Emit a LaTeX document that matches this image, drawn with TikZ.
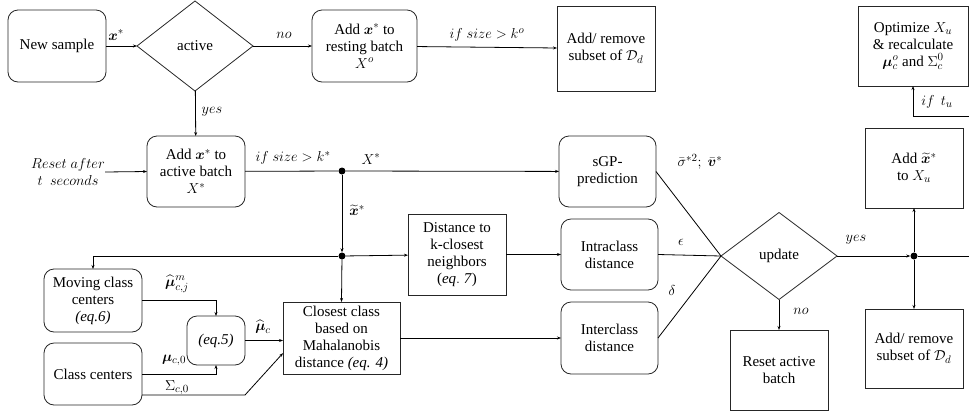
\documentclass[tikz,border=0pt]{standalone}
\usepackage{amsmath,bm}
\usepackage{fontspec}
\setmainfont{Liberation Serif}
\usetikzlibrary{shapes.geometric,arrows.meta,calc}
\tikzset{
  base/.style={draw=black!85, line width=0.8pt, align=center, inner sep=1pt, outer sep=0pt, font=\fontsize{15}{17}\selectfont},
  rbox/.style={base, rounded corners=10pt},
  sbox/.style={base},
  dec/.style={base, diamond, inner sep=0pt},
  conn/.style={line width=0.8pt, -{Stealth[length=4pt,width=3pt]}},
  plain/.style={line width=0.8pt},
  lbl/.style={font=\fontsize{15}{17}\selectfont, inner sep=0pt},
  dot/.style={circle, fill=black, inner sep=0pt, minimum size=7pt},
}
\begin{document}
\begin{tikzpicture}[x=1pt,y=-1pt]
\useasboundingbox (0,0) rectangle (969,413);
% nodes
\node[rbox, minimum width=98pt, minimum height=72pt] (new) at (57,46) {New sample};
\node[dec, minimum width=116pt, minimum height=90pt] (active) at (195,46) {active};
\node[rbox, minimum width=105pt, minimum height=72pt] (rest) at (364.5,46) {Add $\bm{x}^{*}$ to\\resting batch\\$X^{o}$};
\node[sbox, minimum width=98pt, minimum height=85pt] (addrem1) at (606,48.5) {Add/ remove\\subset of $\mathcal{D}_d$};
\node[sbox, minimum width=110pt, minimum height=80pt] (opt) at (913,46) {Optimize $X_u$\\\&\ recalculate\\$\bm{\mu}_c^{o}$ and $\Sigma_c^{0}$};
\node[rbox, minimum width=98pt, minimum height=71pt] (actb) at (196,171.5) {Add $\bm{x}^{*}$ to\\active batch\\$X^{*}$};
\node[lbl, align=center] (resettext) at (68,172) {$Reset\ after$\\$t\ \ seconds$};
\node[rbox, minimum width=97pt, minimum height=71pt] (sgp) at (607.5,171.5) {sGP-\\prediction};
\node[sbox, minimum width=98pt, minimum height=80pt] (addu) at (914,168) {Add $\widetilde{\bm{x}}^{*}$\\to $X_u$};
\node[sbox, minimum width=98pt, minimum height=81pt] (dist) at (457,254.5) {Distance to\\k-closest\\neighbors\\($\mathit{eq.}$ \textit{7})};
\node[rbox, minimum width=97pt, minimum height=71pt] (intra) at (609.5,254.5) {Intraclass\\distance};
\node[dec, minimum width=116pt, minimum height=87pt] (update) at (779,256) {update};
\node[sbox, minimum width=117pt, minimum height=72pt] (closest) at (341.5,338) {Closest class\\based on\\Mahalanobis\\distance \textit{(eq. 4)}};
\node[rbox, minimum width=97pt, minimum height=72pt] (inter) at (609.5,338) {Interclass\\distance};
\node[sbox, minimum width=98pt, minimum height=80pt] (reset) at (779,370) {Reset active\\batch};
\node[sbox, minimum width=98pt, minimum height=79pt] (addrem2) at (914,348.5) {Add/ remove\\subset of $\mathcal{D}_d$};
\node[rbox, minimum width=98pt, minimum height=63pt] (moving) at (93,300.5) {Moving class\\centers\\\textit{(eq.6)}};
\node[rbox, minimum width=98pt, minimum height=62pt] (cc) at (93,374) {Class centers};
\node[rbox, minimum width=58pt, minimum height=49pt] (eq5) at (216,340.5) {\textit{(eq.5)}};
% junctions
\node[dot] (d1) at (342,171) {};
\node[dot] (d2) at (342,256) {};
\node[dot] (d3) at (914,256) {};
\coordinate (rightend) at (969,256);
\coordinate (tu) at (969,116);
\coordinate (mvturn) at (93,256);
\coordinate (sg) at (245,395);
% connectors
\draw[conn] (new) -- (active);
\draw[conn] (active) -- (rest);
\draw[conn] (rest) -- (addrem1);
\draw[conn] (active) -- (actb);
\draw[conn] (resettext.east) -- (actb.west);
\draw[plain] (actb) -- (d1);
\draw[conn] (d1) -- (sgp);
\draw[conn] (d1) -- (d2);
\draw[conn] (d2) -- (dist);
\draw[conn] (d2) -- (mvturn) -- (moving.north);
\draw[conn] (d2) -- (closest.north);
\draw[conn] (dist) -- (intra);
\draw[conn] (closest) -- (inter);
\draw[plain] (sgp.east) -- (update.west);
\draw[plain] (intra.east) -- (update.west);
\draw[plain] (inter.east) -- (update.west);
\draw[conn] (update) -- (d3);
\draw[plain] (d3) -- (rightend);
\draw[conn] (d3) -- (addu);
\draw[conn] (d3) -- (addrem2);
\draw[conn] (update) -- (reset);
\draw[conn] (tu) -| (opt.south);
\draw[conn] (moving.east) -| (eq5.north);
\draw[conn] (cc.east) -| (eq5.south);
\draw[conn] (eq5) -- (closest.west |- eq5.east);
\draw[conn] (cc.east |- sg) -- (sg) -- ($(closest.south west)!0.29!(closest.north west)$);
% labels
\node[lbl] at (116,35) {$\bm{x}^{*}$};
\node[lbl] at (284,35) {$no$};
\node[lbl] at (212,112) {$yes$};
\node[lbl] at (487,35) {$if\ size > k^{o}$};
\node[lbl] at (293,158) {$if\ size > k^{*}$};
\node[lbl] at (371,159) {$X^{*}$};
\node[lbl] at (357,210) {$\widetilde{\bm{x}}^{*}$};
\node[lbl] at (700,162) {$\bar{\sigma}^{*2};\ \bar{\bm{v}}^{*}$};
\node[lbl] at (681,242) {$\epsilon$};
\node[lbl] at (672,290) {$\delta$};
\node[lbl] at (856,240) {$yes$};
\node[lbl] at (801,311) {$no$};
\node[lbl] at (937,102) {$if\ \,t_u$};
\node[lbl] at (177,284) {$\widehat{\bm{\mu}}_{c,j}^{m}$};
\node[lbl] at (263,327) {$\widehat{\bm{\mu}}_{c}$};
\node[lbl] at (174,360) {$\bm{\mu}_{c,0}$};
\node[lbl] at (177,388) {$\Sigma_{c,0}$};
\end{tikzpicture}
\end{document}
